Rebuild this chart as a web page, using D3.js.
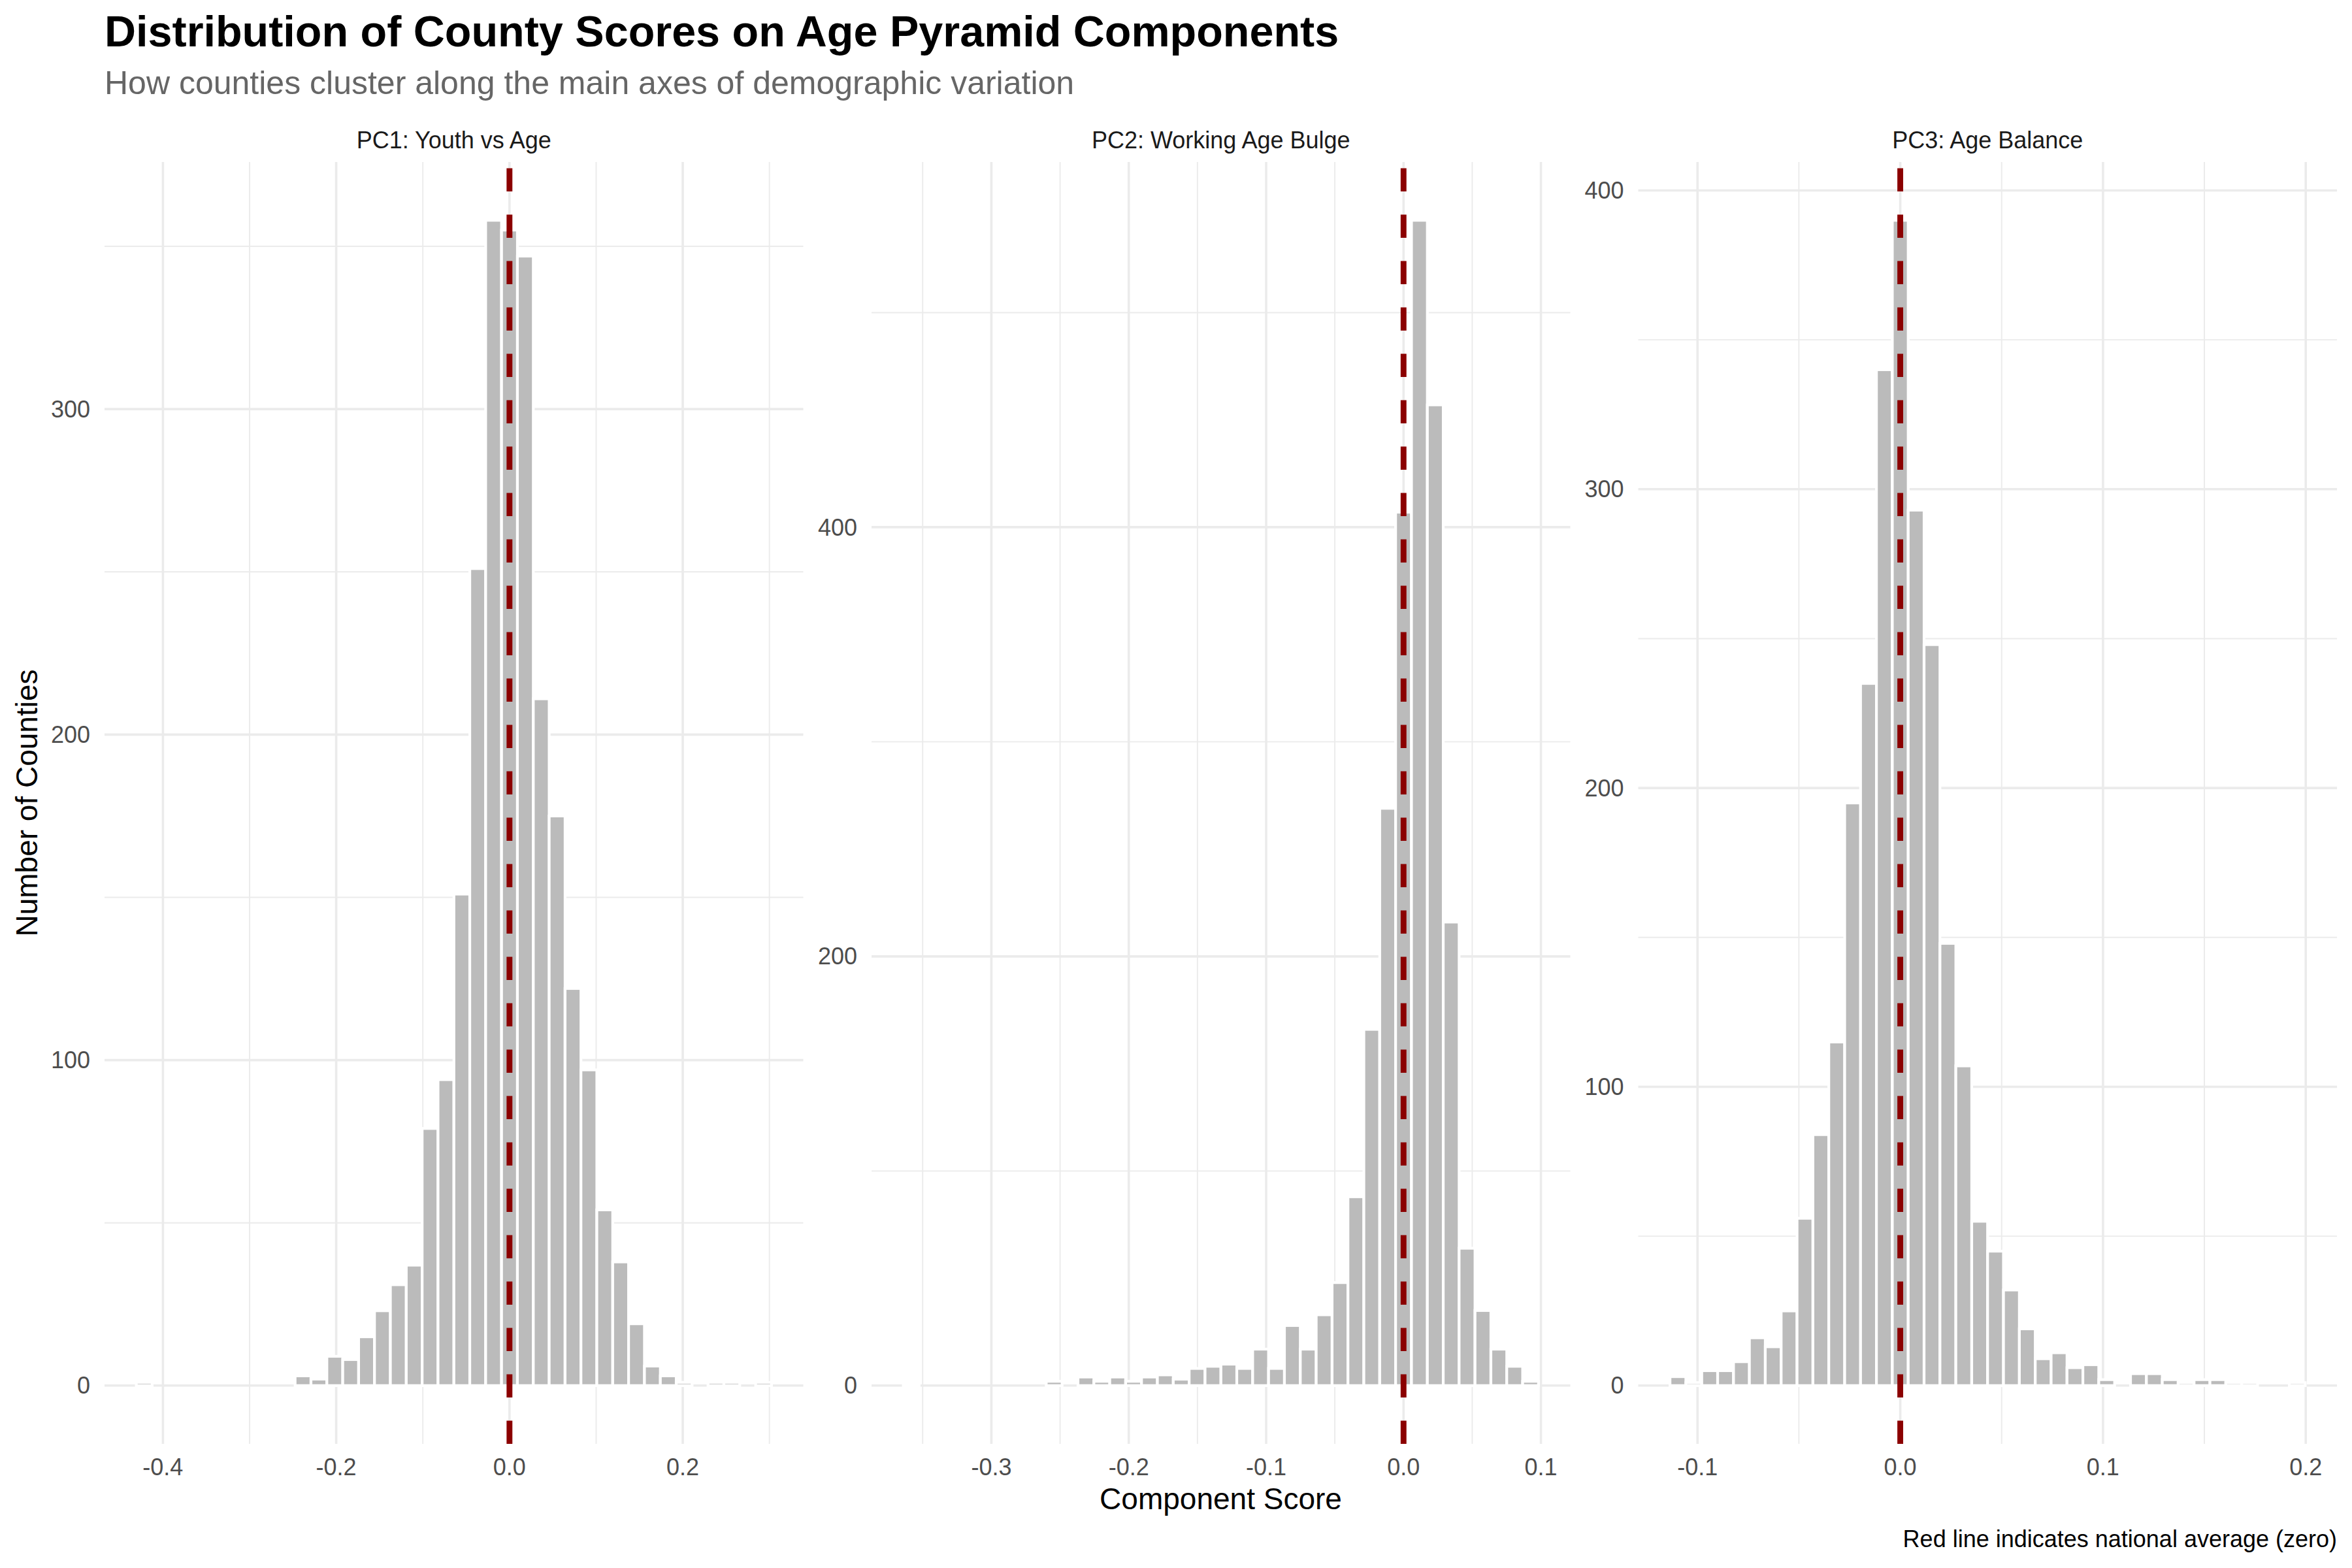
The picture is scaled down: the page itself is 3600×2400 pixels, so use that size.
<!DOCTYPE html>
<html>
<head>
<meta charset="utf-8">
<script src="https://cdn.jsdelivr.net/npm/d3@7/dist/d3.min.js"></script>
<style>
  body { margin: 0; background: #ffffff; }
  svg { display: block; }
  text { font-family: "Liberation Sans", Arial, Helvetica, sans-serif; }
</style>
</head>
<body>
<svg id="chart" width="3600" height="2400"></svg>
<script>
// ---------------- DATA ----------------
const titleText = "Distribution of County Scores on Age Pyramid Components";
const subtitleText = "How counties cluster along the main axes of demographic variation";
const xAxisTitle = "Component Score";
const yAxisTitle = "Number of Counties";
const captionText = "Red line indicates national average (zero)";

const panelTitles = ["PC1: Youth vs Age", "PC2: Working Age Bulge", "PC3: Age Balance"];

// Histogram bins: counts per bin, first bin index (bin centre = index * width), bin width
const pc1BinWidth = 0.01833;
const pc1FirstBin = -23;
const pc1Counts = [1, 0, 0, 0, 0, 0, 0, 0, 0, 0,
                   3, 2, 9, 8, 15, 23, 31, 37, 79, 94,
                   151, 251, 358, 355, 347, 211, 175, 122, 97, 54,
                   38, 19, 6, 3, 1, 0, 1, 1, 0, 1];

const pc2BinWidth = 0.011559;
const pc2FirstBin = -31;
const pc2Counts = [1, 0, 0, 0, 0, 0, 0, 0, 0, 2,
                   0, 4, 2, 4, 2, 4, 5, 3, 8, 9,
                   10, 8, 17, 8, 28, 17, 33, 48, 88, 166,
                   269, 407, 543, 457, 216, 64, 35, 17, 9, 2];

const pc3BinWidth = 0.007833;
const pc3FirstBin = -14;
const pc3Counts = [3, 1, 5, 5, 8, 16, 13, 25, 56, 84,
                   115, 195, 235, 340, 390, 293, 248, 148, 107, 55,
                   45, 32, 19, 9, 11, 6, 7, 2, 0, 4,
                   4, 2, 1, 2, 2, 1, 1, 0, 0, 1];

// Axis ticks
const pc1XTicks = [-0.4, -0.2, 0.0, 0.2];
const pc1XMinor = [-0.3, -0.1, 0.1, 0.3];
const pc2XTicks = [-0.3, -0.2, -0.1, 0.0, 0.1];
const pc2XMinor = [-0.35, -0.25, -0.15, -0.05, 0.05];
const pc3XTicks = [-0.1, 0.0, 0.1, 0.2];
const pc3XMinor = [-0.05, 0.05, 0.15];

const pc1YTicks = [0, 100, 200, 300];
const pc1YMinor = [50, 150, 250, 350];
const pc2YTicks = [0, 200, 400];
const pc2YMinor = [100, 300, 500];
const pc3YTicks = [0, 100, 200, 300, 400];
const pc3YMinor = [50, 150, 250, 350];

const referenceValue = 0; // national average

const panels = [
  { title: panelTitles[0], counts: pc1Counts, first: pc1FirstBin, width: pc1BinWidth,
    xTicks: pc1XTicks, xMinor: pc1XMinor, yTicks: pc1YTicks, yMinor: pc1YMinor },
  { title: panelTitles[1], counts: pc2Counts, first: pc2FirstBin, width: pc2BinWidth,
    xTicks: pc2XTicks, xMinor: pc2XMinor, yTicks: pc2YTicks, yMinor: pc2YMinor },
  { title: panelTitles[2], counts: pc3Counts, first: pc3FirstBin, width: pc3BinWidth,
    xTicks: pc3XTicks, xMinor: pc3XMinor, yTicks: pc3YTicks, yMinor: pc3YMinor }
];

// ---------------- LAYOUT ----------------
const panelLefts = [160, 1334, 2507.5];
const panelWidth = 1069.5;
const panelTop = 248, panelBottom = 2210;

const svg = d3.select("#chart");
svg.append("rect").attr("width", 3600).attr("height", 2400).attr("fill", "#ffffff");

const fmt = v => {
  const s = d3.format(".1f")(Math.abs(v));
  return (v < -1e-9 ? "-" : "") + s;
};

svg.append("text").attr("x", 160).attr("y", 71)
  .attr("font-size", 66.5).attr("font-weight", "bold").attr("fill", "#000")
  .text(titleText);
svg.append("text").attr("x", 160).attr("y", 144)
  .attr("font-size", 50).attr("fill", "#666666")
  .text(subtitleText);

panels.forEach((p, pi) => {
  const bins = p.counts.map((c, i) => {
    const centre = (p.first + i) * p.width;
    return { x0: centre - p.width / 2, x1: centre + p.width / 2, count: c };
  });
  const lo = bins[0].x0, hi = bins[bins.length - 1].x1;
  const ex = (hi - lo) * 0.05;
  const maxC = d3.max(bins, d => d.count);
  const left = panelLefts[pi];
  const x = d3.scaleLinear().domain([lo - ex, hi + ex]).range([left, left + panelWidth]);
  const y = d3.scaleLinear().domain([-0.05 * maxC, 1.05 * maxC]).range([panelBottom, panelTop]);

  const g = svg.append("g");

  // minor grid
  g.selectAll(".vminor").data(p.xMinor).join("line")
    .attr("x1", d => x(d)).attr("x2", d => x(d))
    .attr("y1", panelTop).attr("y2", panelBottom)
    .attr("stroke", "#EBEBEB").attr("stroke-width", 1.9);
  g.selectAll(".hminor").data(p.yMinor).join("line")
    .attr("y1", d => y(d)).attr("y2", d => y(d))
    .attr("x1", left).attr("x2", left + panelWidth)
    .attr("stroke", "#EBEBEB").attr("stroke-width", 1.9);
  // major grid
  g.selectAll(".vmajor").data(p.xTicks).join("line")
    .attr("x1", d => x(d)).attr("x2", d => x(d))
    .attr("y1", panelTop).attr("y2", panelBottom)
    .attr("stroke", "#EBEBEB").attr("stroke-width", 3.6);
  g.selectAll(".hmajor").data(p.yTicks).join("line")
    .attr("y1", d => y(d)).attr("y2", d => y(d))
    .attr("x1", left).attr("x2", left + panelWidth)
    .attr("stroke", "#EBEBEB").attr("stroke-width", 3.6);

  // bars
  g.selectAll(".bar").data(bins).join("rect")
    .attr("x", d => x(d.x0))
    .attr("width", d => x(d.x1) - x(d.x0))
    .attr("y", d => y(d.count))
    .attr("height", d => y(0) - y(d.count))
    .attr("fill", "#BBBBBB")
    .attr("stroke", "#ffffff")
    .attr("stroke-width", 4.2);

  // reference line
  g.append("line")
    .attr("x1", x(referenceValue)).attr("x2", x(referenceValue))
    .attr("y1", panelBottom).attr("y2", panelTop)
    .attr("stroke", "#8B0000").attr("stroke-width", 8.9)
    .attr("stroke-dasharray", "35.5 35.5");

  // x tick labels
  g.selectAll(".xl").data(p.xTicks).join("text")
    .attr("x", d => x(d)).attr("y", 2258)
    .attr("text-anchor", "middle").attr("font-size", 36).attr("fill", "#4D4D4D")
    .text(d => fmt(d));
  // y tick labels
  g.selectAll(".yl").data(p.yTicks).join("text")
    .attr("x", left - 22).attr("y", d => y(d))
    .attr("dy", "0.35em")
    .attr("text-anchor", "end").attr("font-size", 36).attr("fill", "#4D4D4D")
    .text(d => d3.format("d")(d));

  // strip title
  g.append("text")
    .attr("x", left + panelWidth / 2).attr("y", 227)
    .attr("text-anchor", "middle").attr("font-size", 36).attr("fill", "#1A1A1A")
    .text(p.title);
});

// axis titles
svg.append("text")
  .attr("x", (panelLefts[0] + panelLefts[2] + panelWidth) / 2).attr("y", 2310)
  .attr("text-anchor", "middle").attr("font-size", 46).attr("fill", "#000")
  .text(xAxisTitle);
svg.append("text")
  .attr("transform", `translate(57, ${(panelTop + panelBottom) / 2}) rotate(-90)`)
  .attr("text-anchor", "middle").attr("font-size", 46).attr("fill", "#000")
  .text(yAxisTitle);
// caption
svg.append("text")
  .attr("x", 3577).attr("y", 2368)
  .attr("text-anchor", "end").attr("font-size", 36).attr("fill", "#000")
  .text(captionText);
</script>
</body>
</html>
